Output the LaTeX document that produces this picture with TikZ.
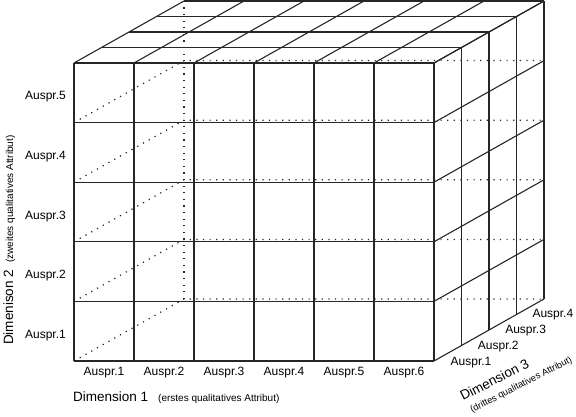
\documentclass[tikz,border=0pt]{standalone}
\usepackage{fontspec}
\setmainfont{Liberation Sans}

\begin{document}
\begin{tikzpicture}[x=1pt, y=1pt,
    grid/.style={draw=black!85, line width=1.1pt},
    hidden/.style={draw=black!85, line width=1.2pt, dash pattern=on 1.2pt off 5.4pt},
    lbl/.style={font=\fontsize{12}{14}\selectfont, inner sep=0pt},
    dimtext/.style={inner sep=0pt, anchor=base west}]
        \useasboundingbox (0,0) rectangle (576,416);
        \def\dx{27.5}
        \def\dy{15.5}
        \def\rowh{59.6}

        % Hidden edges
        \foreach \j in {0,...,4}
            \draw[hidden] (74,55+\j*\rowh) -- ++(4*\dx,4*\dy) -- ++(360,0);
        \draw[hidden] (74+4*\dx,55+4*\dy) -- ++(0,298);

        % Front face
        \foreach \i in {0,...,6}
            \draw[grid] (74+\i*60,55) -- ++(0,298);
        \foreach \j in {0,...,5}
            \draw[grid] (74,55+\j*\rowh) -- ++(360,0);

        % Top face
        \foreach \k in {1,...,4}
            \draw[grid] (74+\k*\dx,353+\k*\dy) -- ++(360,0);
        \foreach \i in {0,...,6}
            \draw[grid] (74+\i*60,353) -- ++(4*\dx,4*\dy);

        % Right face
        \foreach \k in {1,...,4}
            \draw[grid] (434+\k*\dx,55+\k*\dy) -- ++(0,298);
        \foreach \j in {0,...,5}
            \draw[grid] (434,55+\j*\rowh) -- ++(4*\dx,4*\dy);

        % Dimension 1
        \foreach \i in {1,...,6}
            \node[lbl] (dimAval\i) at (44+\i*60,43) {Auspr.\i};
        \node[dimtext] (dimA) at (73,15) {\fontsize{13.5}{15}\selectfont Dimension 1\hspace{10pt}\fontsize{10}{12}\selectfont (erstes qualitatives Attribut)};

        % Dimension 2
        \foreach \j [count=\n] in {0,...,4}
            \node[lbl, anchor=east] (dimBval\n) at (66,80.5+\j*\rowh) {Auspr.\n};
        \node[dimtext, rotate=90] (dimB) at (13,71) {\fontsize{13.5}{15}\selectfont Dimenison 2\hspace{7pt}\fontsize{10}{12}\selectfont (zweites qualitatives Attribut)};

        % Dimension 3
        \foreach \k [count=\n] in {0,...,3}
            \node[lbl] (dimCval\n) at (471+\k*27.3,53+\k*16) {Auspr.\n};
        \node[dimtext, rotate=27] (dimC) at (463,15) {\fontsize{13.5}{15}\selectfont Dimension 3};
        \node[dimtext, rotate=27, font=\fontsize{9.3}{11}\selectfont] (dimCsub) at (472,3) {(drittes qualitatives Attribut)};
    \end{tikzpicture}
\end{document}
